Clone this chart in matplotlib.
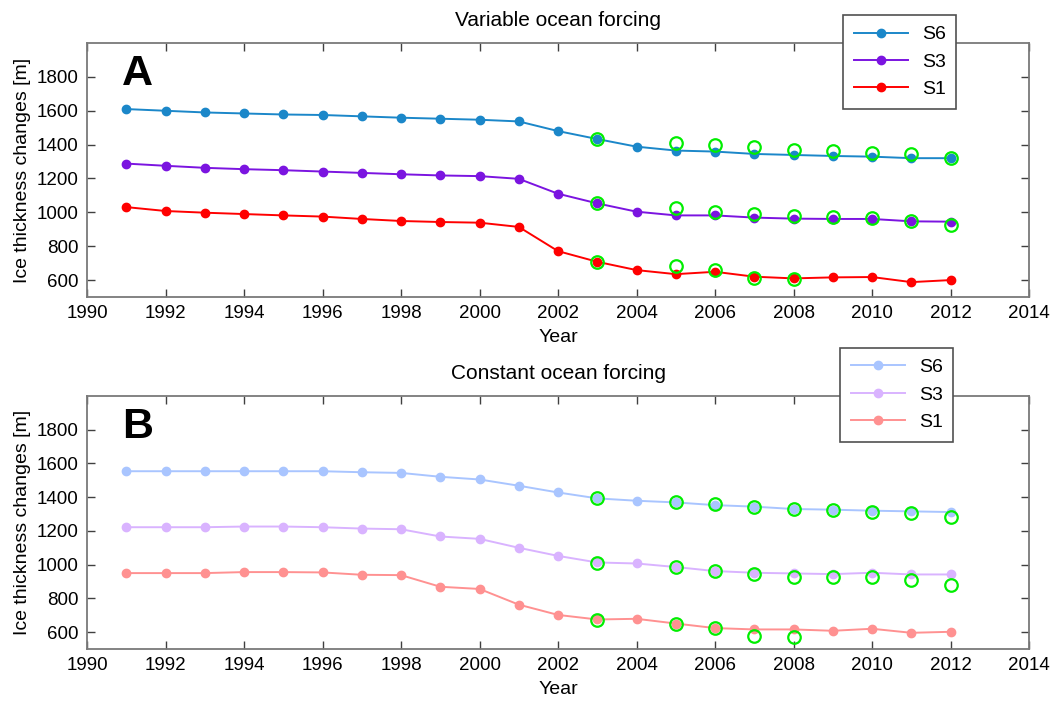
import numpy as np
import matplotlib
matplotlib.use("Agg")
import matplotlib.pyplot as plt

plt.rcParams['font.family'] = ['Liberation Sans', 'DejaVu Sans']

# model years
years = list(range(1991, 2013))

# variable ocean forcing (panel A)
var_s6 = [1610, 1600, 1590, 1584, 1578, 1575, 1567, 1559, 1553, 1547, 1537,
          1480, 1433, 1388, 1365, 1359, 1345, 1339, 1333, 1329, 1320, 1320]
var_s3 = [1288, 1275, 1263, 1255, 1249, 1241, 1233, 1225, 1218, 1214, 1198,
          1110, 1053, 1004, 982, 982, 969, 963, 961, 961, 947, 945]
var_s1 = [1031, 1008, 998, 990, 982, 975, 961, 949, 943, 939, 914,
          771, 708, 659, 635, 649, 620, 610, 616, 618, 588, 600]

# constant ocean forcing (panel B)
con_s6 = [1554, 1554, 1554, 1554, 1554, 1554, 1548, 1544, 1521, 1505, 1468,
          1428, 1393, 1379, 1369, 1353, 1344, 1330, 1326, 1320, 1316, 1312]
con_s3 = [1222, 1222, 1222, 1226, 1226, 1222, 1214, 1210, 1167, 1153, 1100,
          1052, 1013, 1007, 986, 962, 952, 948, 944, 952, 942, 942]
con_s1 = [950, 950, 950, 956, 956, 954, 940, 938, 869, 856, 763,
          702, 675, 679, 651, 624, 616, 616, 608, 620, 596, 602]

# observations (green circles)
obs_years = [2003, 2005, 2006, 2007, 2008, 2009, 2010, 2011, 2012]
obs_years_s1 = [2003, 2005, 2006, 2007, 2008]
obsA_s6 = [1433, 1412, 1398, 1386, 1369, 1365, 1349, 1345, 1322]
obsA_s3 = [1055, 1027, 1004, 992, 978, 973, 965, 949, 924]
obsA_s1 = [708, 684, 661, 614, 606]
obsB_s6 = [1393, 1371, 1359, 1344, 1330, 1326, 1312, 1306, 1285]
obsB_s3 = [1011, 984, 960, 946, 928, 925, 925, 909, 877]
obsB_s1 = [673, 647, 622, 577, 569]

colorsA = ['#1b87c9', '#7b14e0', '#ff0000']
colorsB = ['#a9c5ff', '#d9b3ff', '#ff9191']
labels = ['S6', 'S3', 'S1']

fig = plt.figure(figsize=(10.55, 7.02), dpi=100)
axA = fig.add_axes([0.0825, 0.5769, 0.8929, 0.3618])
axB = fig.add_axes([0.0825, 0.0755, 0.8929, 0.3604])

panels = [
    (axA, [var_s6, var_s3, var_s1], colorsA, [obsA_s6, obsA_s3, obsA_s1],
     'Variable ocean forcing', 'A', (0.7990, 0.9786)),
    (axB, [con_s6, con_s3, con_s1], colorsB, [obsB_s6, obsB_s3, obsB_s1],
     'Constant ocean forcing', 'B', (0.7962, 0.5043)),
]

for ax, series, cols, obs, title, letter, legpos in panels:
    handles = []
    for s, c, lab in zip(series, cols, labels):
        h, = ax.plot(years, s, '-o', color=c, lw=1.4, ms=6, mfc=c, mec=c,
                     label=lab, zorder=3)
        handles.append(h)
    for o, oy in zip(obs, [obs_years, obs_years, obs_years_s1]):
        ax.plot(oy, o, 'o', ms=9, mfc='none', mec='#00ee00', mew=1.6, zorder=4)

    ax.set_xlim(1990, 2014)
    ax.set_ylim(500, 2000)
    ax.set_xticks(range(1990, 2015, 2))
    ax.set_yticks(range(600, 1801, 200))
    ax.tick_params(direction='in', length=6, width=1, color='#404040',
                   top=True, right=True, labelsize=13.5, pad=6)
    for sp in ax.spines.values():
        sp.set_color('#7a7a7a')
        sp.set_linewidth(1.3)
    ax.set_title(title, fontsize=15, pad=12)
    ax.set_xlabel('Year', fontsize=14, labelpad=5)
    ax.set_ylabel('Ice thickness changes [m]', fontsize=14, labelpad=4)
    ax.text(1990.9, 1750, letter, fontsize=31, fontweight='bold',
            ha='left', va='baseline')
    leg = ax.legend(handles=handles, loc='upper left', bbox_to_anchor=legpos,
                    bbox_transform=fig.transFigure, borderaxespad=0,
                    fontsize=14, fancybox=False, framealpha=1,
                    edgecolor='#505050', labelspacing=0.5, handlelength=2.8,
                    borderpad=0.55, handletextpad=0.7)
    leg.get_frame().set_linewidth(1.2)
    leg.set_zorder(10)

fig.savefig('out.png', dpi=100)
